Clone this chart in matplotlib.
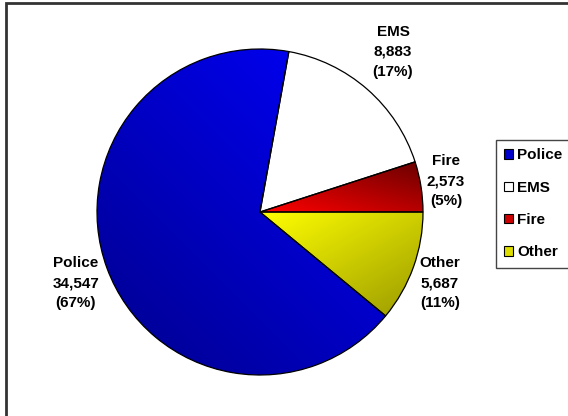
import numpy as np
import matplotlib
matplotlib.use("Agg")
import matplotlib.pyplot as plt
from matplotlib.patches import Rectangle, Patch
from matplotlib.colors import to_rgb

categories = ["Police", "EMS", "Fire", "Other"]
values = [34547, 8883, 2573, 5687]
percents = ["67%", "17%", "5%", "11%"]

W, H = 568, 416
fig = plt.figure(figsize=(W / 100, H / 100), dpi=100)
ax = fig.add_axes([0, 0, 1, 1])
ax.set_xlim(0, W)
ax.set_ylim(0, H)
ax.set_aspect("equal")
ax.axis("off")

cx, cy, R = 260, H - 212, 163

wedges, _ = ax.pie(values, startangle=-39.6, counterclock=False, center=(cx, cy),
                   radius=R, wedgeprops=dict(edgecolor="black", linewidth=0.9),
                   frame=True)

grads = {
    "Police": ("#0000FF", "#00008A", 225),
    "EMS": ("#FFFFFF", "#FFFFFF", 270),
    "Fire": ("#680000", "#FF0000", 255),
    "Other": ("#FFFF00", "#999900", 300),
}

for w, cat in zip(wedges, categories):
    c1, c2, ang = grads[cat]
    v = w.get_path().vertices
    x0, y0 = v.min(axis=0)
    x1, y1 = v.max(axis=0)
    n = 200
    X, Y = np.meshgrid(np.linspace(x0, x1, n), np.linspace(y0, y1, n))
    d = np.array([np.cos(np.radians(ang)), np.sin(np.radians(ang))])
    p = X * d[0] + Y * d[1]
    corners = np.array([[x0, y0], [x0, y1], [x1, y0], [x1, y1]]) @ d
    t = (p - corners.min()) / (corners.max() - corners.min())
    a, b = np.array(to_rgb(c1)), np.array(to_rgb(c2))
    img = a[None, None, :] * (1 - t[..., None]) + b[None, None, :] * t[..., None]
    im = ax.imshow(img, extent=(x0, x1, y0, y1), origin="lower",
                   interpolation="bilinear", zorder=1)
    im.set_clip_path(w)
    w.set_facecolor("none")
    w.set_zorder(2)

ax.set_xlim(0, W)
ax.set_ylim(0, H)
ax.set_aspect("equal")
ax.axis("off")

fs = 11
label_pos = {"Police": (76, 283), "EMS": (393, 52), "Fire": (446, 181), "Other": (440, 283)}
for cat, val, pct in zip(categories, values, percents):
    x, y = label_pos[cat]
    ax.text(x, H - y, f"{cat}\n{val:,}\n({pct})", ha="center", va="center",
            fontsize=fs, fontweight="bold", family="Liberation Sans",
            linespacing=1.55, zorder=5)

ax.add_patch(Rectangle((5.5, -50), 700, H - 3 + 50, fill=False,
                       edgecolor="#333333", linewidth=2, zorder=6))

leg_colors = ["#0000CC", "#FFFFFF", "#CC0000", "#DDDD00"]
handles = [Patch(facecolor=c, edgecolor="black", linewidth=0.8) for c in leg_colors]
leg = ax.legend(handles, categories, loc="upper left",
                bbox_to_anchor=(496 / W, 1 - 140 / H),
                bbox_transform=fig.transFigure,
                prop=dict(family="Liberation Sans", weight="bold", size=fs),
                handlelength=0.55, handleheight=0.55, handletextpad=0.3,
                labelspacing=1.2, borderpad=0.55, borderaxespad=0,
                frameon=True, fancybox=False, framealpha=1, edgecolor="#444444")
leg.get_frame().set_linewidth(1.0)
leg.set_zorder(7)

fig.savefig("out.png", dpi=100)
